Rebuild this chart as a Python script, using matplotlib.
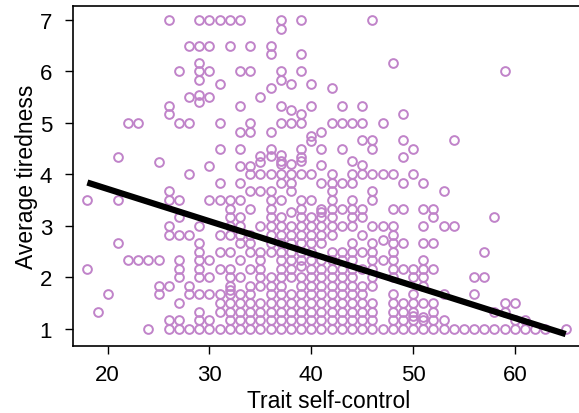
import numpy as np
import matplotlib.pyplot as plt

# trait self-control score (x) and the average tiredness values seen in each column
scores = [18, 19, 20, 21, 22, 23, 24, 25, 26, 27, 28, 29, 30, 31, 32, 33,
          34, 35, 36, 37, 38, 39, 40, 41, 42, 43, 44, 45, 46, 47, 48,
          49, 50, 51, 52, 53, 54, 55, 56, 57, 58, 59, 60, 61, 62, 63, 65]

t18 = [3.5, 2.17]
t19 = [1.33]
t20 = [1.67]
t21 = [4.33, 3.5, 2.67]
t22 = [5.0, 2.33]
t23 = [5.0, 2.33]
t24 = [2.33, 1.0]
t25 = [4.25, 2.33, 1.83, 1.67]
t26 = [7.0, 5.33, 5.17, 3.67, 3.5, 3.0, 2.83, 1.83, 1.17, 1.0]
t27 = [6.0, 5.0, 3.5, 3.17, 2.83, 2.33, 2.17, 2.0, 1.5, 1.17, 1.0]
t28 = [6.5, 5.5, 5.0, 4.0, 2.83, 1.83, 1.67, 1.0]
t29 = [7.0, 6.5, 6.17, 6.0, 5.83, 5.55, 5.4, 3.0, 2.67, 2.5, 2.33, 2.17, 2.0,
       1.67, 1.33, 1.17, 1.0]
t30 = [7.0, 6.5, 6.0, 5.5, 4.17, 3.5, 2.33, 2.0, 1.67, 1.17, 1.0]
t31 = [7.0, 5.75, 5.0, 4.5, 3.83, 3.5, 2.83, 2.5, 2.17, 1.67, 1.5, 1.33, 1.0]
t32 = [7.0, 6.5, 3.5, 3.33, 3.17, 3.0, 2.83, 2.5, 2.17, 2.0, 1.83, 1.75, 1.67,
       1.5, 1.33, 1.17, 1.0]
t33 = [7.0, 6.0, 5.33, 4.83, 4.5, 4.17, 3.83, 3.5, 3.17, 3.0, 2.83, 2.67, 2.33,
       2.0, 1.67, 1.5, 1.33, 1.17, 1.0]
t34 = [6.5, 6.0, 5.0, 4.83, 4.17, 4.0, 3.67, 3.33, 2.83, 2.67, 2.5, 2.17, 1.83,
       1.67, 1.5, 1.33, 1.17, 1.0]
t35 = [5.5, 4.35, 4.25, 4.0, 3.67, 3.0, 2.5, 2.33, 2.17, 2.0, 1.83, 1.5, 1.33,
       1.17, 1.0]
t36 = [6.5, 6.33, 5.67, 4.83, 4.5, 4.35, 4.0, 3.67, 3.5, 3.33, 3.17, 3.0, 2.83,
       2.67, 2.5, 2.0, 1.83, 1.67, 1.5, 1.33, 1.17, 1.0]
t37 = [7.0, 6.83, 6.0, 5.83, 5.33, 5.0, 4.37, 4.27, 4.2, 4.0, 3.83, 3.5, 3.17,
       3.0, 2.83, 2.67, 2.5, 2.33, 2.17, 2.0, 1.83, 1.67, 1.5, 1.33, 1.17, 1.0]
t38 = [5.75, 5.25, 5.0, 4.2, 4.0, 3.83, 3.67, 3.27, 3.0, 2.83, 2.67, 2.5, 2.33,
       2.17, 2.0, 1.67, 1.5, 1.33, 1.17, 1.0]
t39 = [7.0, 6.33, 6.0, 5.17, 5.0, 4.5, 4.33, 4.27, 4.0, 3.5, 3.33, 3.17, 3.0,
       2.83, 2.67, 2.5, 2.33, 2.23, 2.0, 1.83, 1.67, 1.5, 1.33, 1.17, 1.0]
t40 = [5.75, 5.33, 4.75, 4.65, 4.0, 3.5, 3.17, 3.0, 2.83, 2.67, 2.5, 2.33, 2.17,
       2.0, 1.83, 1.67, 1.5, 1.33, 1.17, 1.0]
t41 = [4.83, 4.5, 4.18, 3.83, 3.33, 3.27, 3.17, 3.0, 2.83, 2.67, 2.33, 2.17, 2.0,
       1.83, 1.67, 1.5, 1.33, 1.17, 1.0]
t42 = [5.67, 5.0, 4.0, 3.83, 3.67, 3.5, 3.33, 3.17, 3.0, 2.83, 2.5, 2.33, 2.17,
       2.0, 1.83, 1.67, 1.5, 1.33, 1.17, 1.0]
t43 = [5.33, 5.0, 4.5, 3.83, 3.33, 3.0, 2.5, 2.33, 2.17, 2.0, 1.83, 1.67, 1.5,
       1.33, 1.17, 1.0]
t44 = [5.0, 4.27, 4.0, 3.83, 3.5, 3.33, 3.17, 3.0, 2.67, 2.5, 2.33, 2.17, 2.0,
       1.83, 1.67, 1.5, 1.33, 1.17, 1.0]
t45 = [5.33, 5.0, 4.67, 4.18, 4.0, 3.33, 3.17, 2.83, 2.5, 2.17, 1.83, 1.67, 1.5,
       1.33, 1.17, 1.0]
t46 = [7.0, 4.67, 4.5, 4.0, 3.67, 3.5, 3.0, 2.67, 2.5, 2.33, 2.17, 2.0, 1.83,
       1.5, 1.33, 1.17, 1.0]
t47 = [5.0, 4.0, 3.0, 2.73, 2.33, 1.0]
t48 = [6.17, 4.0, 3.33, 3.0, 2.83, 2.67, 2.5, 2.33, 2.17, 2.0, 1.67, 1.5, 1.33,
       1.17, 1.0]
t49 = [5.17, 4.67, 4.33, 3.83, 3.33, 2.67, 2.17, 1.5, 1.33, 1.17, 1.0]
t50 = [4.5, 4.0, 2.17, 2.0, 1.67, 1.5, 1.33, 1.25, 1.17, 1.0]
t51 = [3.83, 3.33, 3.0, 2.67, 2.33, 2.17, 2.0, 1.83, 1.5, 1.23, 1.17, 1.0]
t52 = [3.33, 3.17, 2.67, 2.17, 1.5, 1.33, 1.17, 1.0]
t53 = [3.67, 3.0, 1.67, 1.17, 1.0]
t54 = [4.67, 3.0, 1.0]
t55 = [1.0]
t56 = [2.0, 1.67, 1.0]
t57 = [2.5, 2.0, 1.0]
t58 = [3.17, 1.33, 1.0]
t59 = [6.0, 1.5, 1.33, 1.0]
t60 = [1.5, 1.17, 1.0]
t61 = [1.17, 1.0]
t62 = [1.0]
t63 = [1.0]
t65 = [1.0]

tired_cols = [t18, t19, t20, t21, t22, t23, t24, t25, t26, t27, t28, t29, t30,
              t31, t32, t33, t34, t35, t36, t37, t38, t39, t40, t41, t42, t43,
              t44, t45, t46, t47, t48, t49, t50, t51, t52, t53, t54, t55, t56,
              t57, t58, t59, t60, t61, t62, t63, t65]

# regression line
fit_intercept = 4.97
fit_slope = -0.0626

x = []
y = []
for s, col in zip(scores, tired_cols):
    x += [s] * len(col)
    y += col

plt.rcParams['font.family'] = ['Liberation Sans', 'DejaVu Sans']

fig = plt.figure(figsize=(5.79, 4.14), dpi=100)
ax = fig.add_axes([0.1261, 0.1618, 0.884, 0.8213])

ax.plot(x, y, 'o', ms=6.3, mfc='none', mec='#C083C9', mew=1.4, zorder=2)

xs = np.array([min(scores), max(scores)])
ax.plot(xs, fit_intercept + fit_slope * xs, color='black', lw=4.5, zorder=3,
        solid_capstyle='butt')

ax.set_xlim(16.59, 66.88)
ax.set_ylim(0.67, 7.27)
ax.set_xticks([20, 30, 40, 50, 60])
ax.set_yticks([1, 2, 3, 4, 5, 6, 7])
ax.tick_params(direction='out', length=6, width=1, labelsize=16)
ax.tick_params(axis='x', pad=7)
ax.tick_params(axis='y', pad=9)
for sp in ax.spines.values():
    sp.set_linewidth(1.2)

ax.set_xlabel("Trait self-control", fontsize=16.5, labelpad=3)
ax.set_ylabel("Average tiredness", fontsize=16.5, labelpad=1)

fig.savefig("out.png", dpi=100)
